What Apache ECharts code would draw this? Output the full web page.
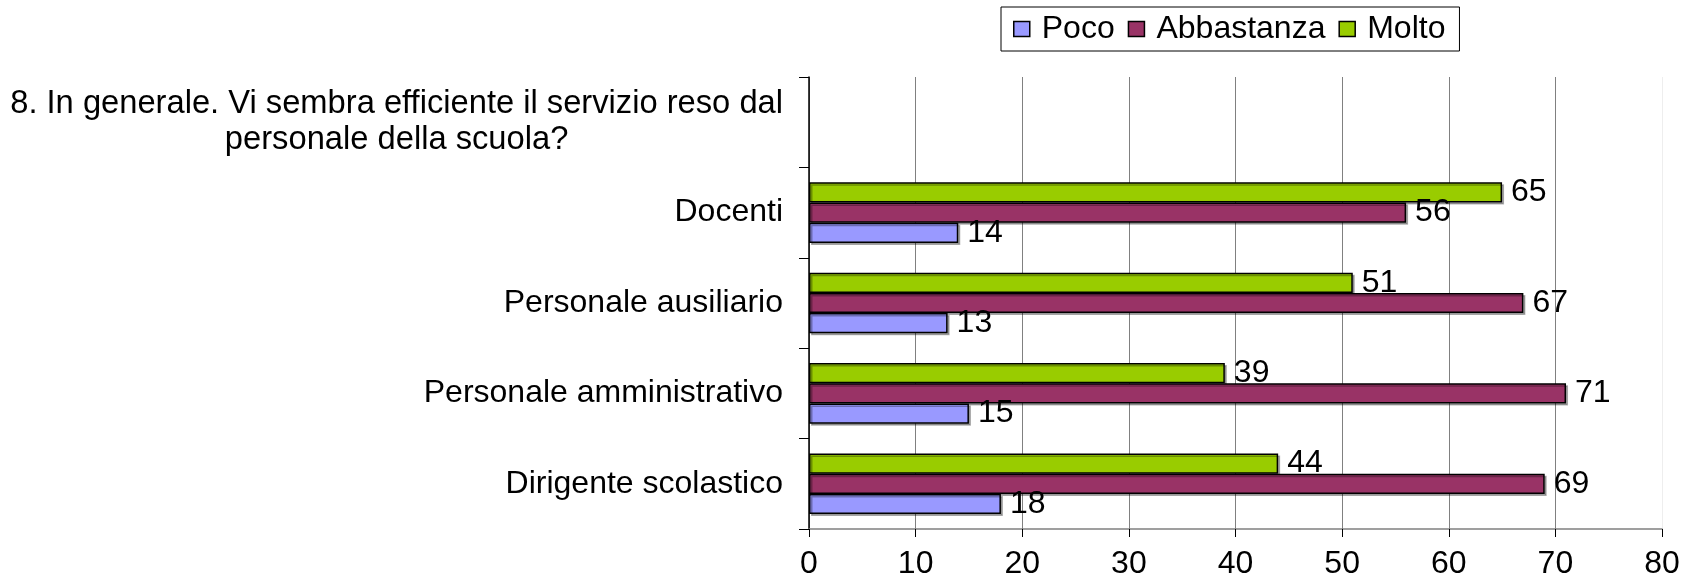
<!DOCTYPE html>
<html>
<head>
<meta charset="utf-8">
<script src="https://cdn.jsdelivr.net/npm/echarts@6/dist/echarts.min.js"></script>
<style>
html, body { margin: 0; padding: 0; background: #fff; }
#chart { width: 1695px; height: 581px; }
</style>
</head>
<body>
<div id="chart"></div>
<script>
// categories bottom to top, the question text sits on the empty top row
const categories = [
  'Dirigente scolastico',
  'Personale amministrativo',
  'Personale ausiliario',
  'Docenti',
  '8. In generale. Vi sembra efficiente il servizio reso dal\npersonale della scuola?'
]
const seriesNames = ['Poco', 'Abbastanza', 'Molto']
const poco = [18, 15, 13, 14, '-']
const abbastanza = [69, 71, 67, 56, '-']
const molto = [44, 39, 51, 65, '-']
const xMin = 0
const xMax = 80
const xStep = 10

const font = 'Liberation Sans, Arial, sans-serif'
const fontSize = 32

function barSeries(name, data, color) {
  return {
    name: name,
    type: 'bar',
    data: data,
    barGap: 0,
    barCategoryGap: '33%',
    itemStyle: {
      color: color,
      borderColor: '#000',
      borderWidth: 1.5,
      shadowColor: 'rgba(0,0,0,0.3)',
      shadowOffsetX: 2,
      shadowOffsetY: 2
    },
    label: {
      show: true,
      position: 'right',
      distance: 9,
      color: '#000',
      fontFamily: font,
      fontSize: fontSize
    },
    emphasis: { disabled: true }
  }
}

const chart = echarts.init(document.getElementById('chart'))
chart.setOption({
  animation: false,
  textStyle: { fontFamily: font },
  legend: {
    data: seriesNames,
    left: 1001,
    top: 7,
    padding: [6, 14, 6, 12],
    borderColor: '#000',
    borderWidth: 1,
    backgroundColor: '#fff',
    icon: 'rect',
    itemWidth: 16,
    itemHeight: 15,
    itemGap: 13,
    itemStyle: { borderColor: '#000', borderWidth: 1.5, shadowColor: 'transparent' },
    textStyle: { color: '#000', fontFamily: font, fontSize: fontSize, padding: [0, 0, 0, 7] }
  },
  grid: {
    left: 809,
    right: 33,
    top: 77,
    bottom: 52
  },
  xAxis: {
    type: 'value',
    min: xMin,
    max: xMax,
    interval: xStep,
    axisLine: { show: true, lineStyle: { color: '#808080', width: 1.5 } },
    axisTick: { show: true, length: 8, lineStyle: { color: '#000' } },
    axisLabel: { color: '#000', fontFamily: font, fontSize: fontSize, margin: 19 },
    splitLine: {
      show: true,
      lineStyle: {
        color: ['#808080', '#808080', '#808080', '#808080', '#808080', '#808080', '#808080', '#808080', '#eeeeee'],
        width: 1
      }
    }
  },
  yAxis: {
    type: 'category',
    data: categories,
    axisLine: { show: true, lineStyle: { color: '#000', width: 1.5 } },
    axisTick: { show: true, length: 10, lineStyle: { color: '#000' } },
    axisLabel: {
      interval: 0,
      margin: 26,
      color: '#000',
      fontFamily: font,
      fontSize: fontSize,
      formatter: function (value) {
        if (value.indexOf('\n') >= 0) {
          return '{q|' + value + '}'
        }
        return value
      },
      rich: {
        q: {
          align: 'center',
          color: '#000',
          fontFamily: font,
          fontSize: 32.7,
          lineHeight: 36
        }
      }
    },
    splitLine: { show: false }
  },
  // series 0 is drawn at the top of each row, so Molto goes first
  series: [
    barSeries(seriesNames[2], molto, '#99CC00'),
    barSeries(seriesNames[1], abbastanza, '#993366'),
    barSeries(seriesNames[0], poco, '#9999FF')
  ]
})
</script>
</body>
</html>
